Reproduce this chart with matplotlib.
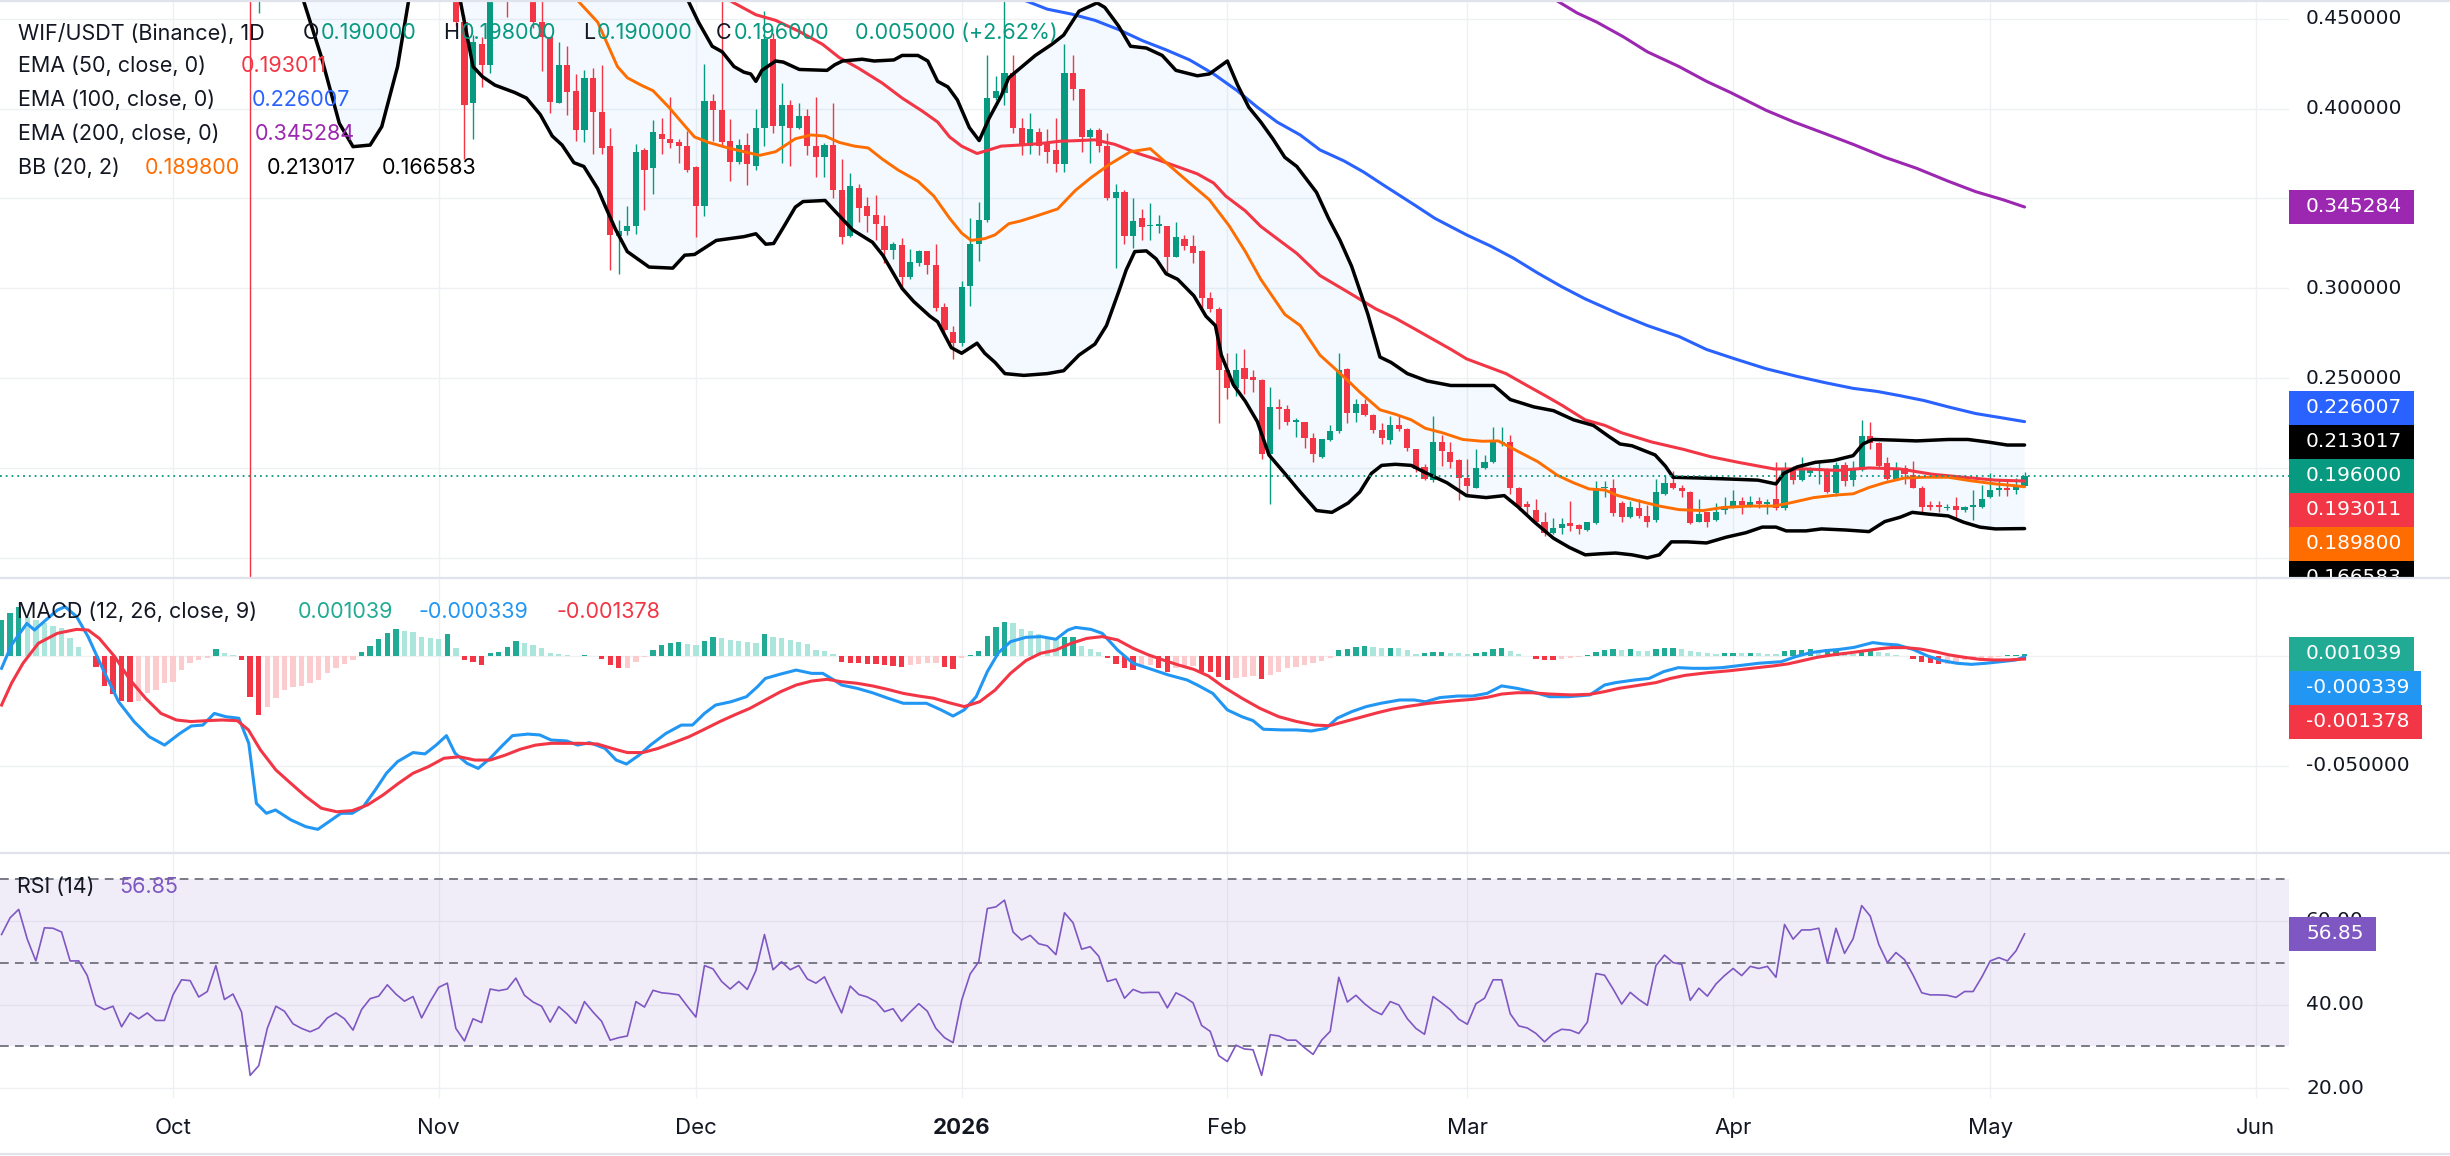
import numpy as np
import pandas as pd
import matplotlib
matplotlib.use('Agg')
import matplotlib.pyplot as plt
from matplotlib.patches import Polygon, Rectangle
from matplotlib.lines import Line2D

plt.rcParams['font.family'] = ['Inter', 'DejaVu Sans']

# ---------------- data (daily, starting 2025-09-11) ----------------
first_day = pd.Timestamp('2025-09-11')

opens = [
    1.00, 1.02, 1.08, 1.10, 1.06, 1.04, 1.05, 1.00, 0.97, 0.92,
    0.90, 0.86, 0.80, 0.78, 0.74, 0.75, 0.72, 0.73, 0.71, 0.70,
    0.72, 0.76, 0.80, 0.81, 0.78, 0.80, 0.83, 0.79, 0.78, 0.73,
    0.55, 0.60, 0.62, 0.58, 0.59, 0.56, 0.55, 0.54, 0.52, 0.53,
    0.54, 0.52, 0.50, 0.53, 0.55, 0.57, 0.58, 0.56, 0.55, 0.54,
    0.52, 0.51, 0.50, 0.49, 0.448, 0.403, 0.436, 0.424, 0.475, 0.48,
    0.47, 0.475, 0.468, 0.448, 0.440, 0.4028, 0.4243, 0.4100, 0.3880, 0.4171,
    0.3980, 0.3791, 0.3294, 0.3319, 0.3345, 0.3771, 0.3668, 0.3859, 0.3828, 0.3812,
    0.3791, 0.3674, 0.3456, 0.4042, 0.3991, 0.3822, 0.3705, 0.3797, 0.3678, 0.3890,
    0.4387, 0.3904, 0.4017, 0.3894, 0.3956, 0.3791, 0.3730, 0.3797, 0.3545, 0.3294,
    0.3559, 0.3456, 0.3411, 0.3345, 0.3216, 0.3243, 0.3066, 0.3144, 0.3206, 0.3130,
    0.2897, 0.2760, 0.2696, 0.3014, 0.3247, 0.3380, 0.4058, 0.4089, 0.4198, 0.3894,
    0.3791, 0.3870, 0.3802, 0.3771, 0.3689, 0.4196, 0.4106, 0.3843, 0.3880, 0.3791,
    0.3504, 0.3534, 0.3294, 0.3391, 0.3345, 0.3349, 0.3345, 0.3175, 0.3277, 0.3236,
    0.3210, 0.2949, 0.2887, 0.2548, 0.2445, 0.2558, 0.2507, 0.2490, 0.2079, 0.2342,
    0.2332, 0.2260, 0.2260, 0.2168, 0.2065, 0.2158, 0.2209, 0.2552, 0.2306, 0.2357,
    0.2295, 0.2215, 0.2158, 0.2244, 0.2220, 0.2106, 0.2010, 0.1936, 0.2147, 0.2092,
    0.2045, 0.1948, 0.1894, 0.2003, 0.2038, 0.2141, 0.2147, 0.1890, 0.1804, 0.1767,
    0.1705, 0.1644, 0.1669, 0.1695, 0.1685, 0.1660, 0.1695, 0.1890, 0.1894, 0.1806,
    0.1730, 0.1778, 0.1736, 0.1716, 0.1859, 0.1921, 0.1894, 0.1870, 0.1705, 0.1757,
    0.1716, 0.1767, 0.1788, 0.1818, 0.1788, 0.1818, 0.1804, 0.1829, 0.1778, 0.1989,
    0.1936, 0.1973, 0.1989, 0.1993, 0.1866, 0.2018, 0.1936, 0.1989, 0.2178, 0.2141,
    0.2030, 0.1942, 0.2003, 0.1962, 0.1894, 0.1798, 0.1798, 0.1779, 0.1792, 0.1767,
    0.1783, 0.1783, 0.1839, 0.1880, 0.1894, 0.1880, 0.1900,
]
highs = [
    1.05, 1.10, 1.13, 1.12, 1.09, 1.08, 1.07, 1.02, 0.99, 0.94,
    0.92, 0.87, 0.83, 0.80, 0.77, 0.76, 0.75, 0.74, 0.73, 0.74,
    0.78, 0.82, 0.83, 0.82, 0.81, 0.85, 0.84, 0.81, 0.79, 0.75,
    0.63, 0.65, 0.63, 0.61, 0.60, 0.58, 0.57, 0.55, 0.55, 0.56,
    0.55, 0.53, 0.54, 0.56, 0.58, 0.60, 0.59, 0.57, 0.56, 0.55,
    0.53, 0.52, 0.51, 0.50, 0.452, 0.441, 0.440, 0.49, 0.50, 0.49,
    0.49, 0.485, 0.475, 0.462, 0.440, 0.4367, 0.4346, 0.4192, 0.4213, 0.4223,
    0.4243, 0.3894, 0.3380, 0.3456, 0.3802, 0.3781, 0.3935, 0.3945, 0.4065, 0.3832,
    0.3873, 0.3678, 0.4247, 0.4083, 0.462, 0.3941, 0.3832, 0.3863, 0.3997, 0.4541,
    0.4418, 0.4141, 0.4048, 0.4028, 0.3997, 0.4065, 0.3806, 0.4032, 0.3720, 0.3643,
    0.3582, 0.3510, 0.3520, 0.3407, 0.3257, 0.3278, 0.3220, 0.3216, 0.3210, 0.3247,
    0.2918, 0.2790, 0.3041, 0.3391, 0.3479, 0.4295, 0.4182, 0.465, 0.4295, 0.3945,
    0.3976, 0.3894, 0.3884, 0.3945, 0.4356, 0.4295, 0.4106, 0.3894, 0.3894, 0.3863,
    0.3582, 0.3545, 0.3504, 0.3442, 0.3477, 0.3411, 0.3345, 0.3370, 0.3298, 0.3298,
    0.3216, 0.2979, 0.2897, 0.2640, 0.2640, 0.2661, 0.2548, 0.2497, 0.2455, 0.2388,
    0.2353, 0.2280, 0.2260, 0.2199, 0.2162, 0.2240, 0.2640, 0.2558, 0.2388, 0.2384,
    0.2300, 0.2250, 0.2291, 0.2291, 0.2225, 0.2110, 0.2024, 0.2291, 0.2188, 0.2147,
    0.2050, 0.2055, 0.2106, 0.2075, 0.2229, 0.2229, 0.2188, 0.1895, 0.1818, 0.1829,
    0.1757, 0.1726, 0.1726, 0.1818, 0.1690, 0.1705, 0.1931, 0.1931, 0.1942, 0.1818,
    0.1818, 0.1829, 0.1798, 0.1942, 0.1962, 0.1988, 0.1910, 0.1875, 0.1829, 0.1760,
    0.1808, 0.1839, 0.1880, 0.1839, 0.1845, 0.1839, 0.1829, 0.2034, 0.2038, 0.2014,
    0.2065, 0.2010, 0.2034, 0.2000, 0.2034, 0.2038, 0.2044, 0.2271, 0.2260, 0.2147,
    0.2065, 0.2038, 0.2018, 0.2044, 0.1900, 0.1818, 0.1818, 0.1804, 0.1839, 0.1790,
    0.1880, 0.1910, 0.1976, 0.1942, 0.1931, 0.1948, 0.1980,
]
lows = [
    0.98, 1.00, 1.05, 1.03, 1.01, 1.02, 0.98, 0.95, 0.90, 0.88,
    0.84, 0.78, 0.76, 0.72, 0.72, 0.70, 0.70, 0.69, 0.68, 0.69,
    0.71, 0.75, 0.78, 0.76, 0.77, 0.79, 0.77, 0.76, 0.72, 0.12,
    0.453, 0.58, 0.56, 0.56, 0.54, 0.53, 0.52, 0.50, 0.50, 0.52,
    0.50, 0.48, 0.49, 0.52, 0.54, 0.56, 0.55, 0.54, 0.53, 0.51,
    0.50, 0.49, 0.48, 0.446, 0.372, 0.383, 0.412, 0.420, 0.465, 0.451,
    0.462, 0.461, 0.445, 0.421, 0.3976, 0.4028, 0.3966, 0.3822, 0.3812, 0.3750,
    0.3750, 0.3103, 0.3082, 0.3298, 0.3304, 0.3436, 0.3524, 0.3750, 0.3781, 0.3699,
    0.3647, 0.3288, 0.3401, 0.3822, 0.3800, 0.3600, 0.3689, 0.3575, 0.3658, 0.3791,
    0.3863, 0.3699, 0.3678, 0.3884, 0.3740, 0.3617, 0.3617, 0.3504, 0.3247, 0.3288,
    0.3370, 0.3312, 0.3267, 0.3144, 0.3164, 0.3004, 0.3052, 0.3124, 0.3082, 0.2877,
    0.2753, 0.2610, 0.2682, 0.2901, 0.3154, 0.3370, 0.4048, 0.4017, 0.3863, 0.3740,
    0.3750, 0.3740, 0.3699, 0.3647, 0.3647, 0.4048, 0.3760, 0.3699, 0.3760, 0.3493,
    0.3113, 0.3247, 0.3226, 0.3267, 0.3271, 0.3308, 0.3082, 0.3175, 0.3216, 0.3144,
    0.2877, 0.2867, 0.2250, 0.2384, 0.2404, 0.2414, 0.2425, 0.2055, 0.1804, 0.2219,
    0.2240, 0.2174, 0.2116, 0.2034, 0.2059, 0.2150, 0.2199, 0.2250, 0.2260, 0.2291,
    0.2199, 0.2137, 0.2137, 0.2209, 0.2096, 0.1983, 0.1936, 0.1927, 0.2014, 0.2003,
    0.1825, 0.1849, 0.1890, 0.1995, 0.2030, 0.2127, 0.1860, 0.1767, 0.1747, 0.1700,
    0.1627, 0.1634, 0.1634, 0.1654, 0.1634, 0.1650, 0.1690, 0.1839, 0.1736, 0.1705,
    0.1725, 0.1726, 0.1675, 0.1705, 0.1852, 0.1886, 0.1839, 0.1689, 0.1700, 0.1675,
    0.1710, 0.1747, 0.1780, 0.1747, 0.1785, 0.1778, 0.1747, 0.1771, 0.1770, 0.1911,
    0.1930, 0.1960, 0.1911, 0.1865, 0.1849, 0.1901, 0.1901, 0.1985, 0.2106, 0.2003,
    0.1936, 0.1936, 0.1911, 0.1890, 0.1747, 0.1770, 0.1757, 0.1770, 0.1726, 0.1760,
    0.1716, 0.1780, 0.1834, 0.1849, 0.1849, 0.1859, 0.1900,
]
closes = [
    1.02, 1.08, 1.10, 1.06, 1.04, 1.05, 1.00, 0.97, 0.92, 0.90,
    0.86, 0.80, 0.78, 0.74, 0.75, 0.72, 0.73, 0.71, 0.70, 0.72,
    0.76, 0.80, 0.81, 0.78, 0.80, 0.83, 0.79, 0.78, 0.73, 0.55,
    0.60, 0.62, 0.58, 0.59, 0.56, 0.55, 0.54, 0.52, 0.53, 0.54,
    0.52, 0.50, 0.53, 0.55, 0.57, 0.58, 0.56, 0.55, 0.54, 0.52,
    0.51, 0.50, 0.49, 0.448, 0.402, 0.437, 0.424, 0.475, 0.48, 0.47,
    0.475, 0.468, 0.448, 0.440, 0.4038, 0.4243, 0.4093, 0.3880, 0.4171, 0.3980,
    0.3781, 0.3298, 0.3319, 0.3345, 0.3760, 0.3658, 0.3870, 0.3832, 0.3806, 0.3791,
    0.3658, 0.3456, 0.4042, 0.3991, 0.3816, 0.3705, 0.3797, 0.3693, 0.3890, 0.4387,
    0.3904, 0.4017, 0.3894, 0.3956, 0.3791, 0.3730, 0.3797, 0.3545, 0.3288, 0.3569,
    0.3446, 0.3405, 0.3356, 0.3216, 0.3247, 0.3066, 0.3148, 0.3206, 0.3130, 0.2893,
    0.2768, 0.2696, 0.3010, 0.3247, 0.3380, 0.4058, 0.4100, 0.4198, 0.3894, 0.3791,
    0.3884, 0.3791, 0.3760, 0.3689, 0.4196, 0.4110, 0.3843, 0.3880, 0.3791, 0.3504,
    0.3534, 0.3294, 0.3376, 0.3340, 0.3353, 0.3356, 0.3175, 0.3288, 0.3236, 0.3195,
    0.2949, 0.2887, 0.2548, 0.2445, 0.2548, 0.2497, 0.2490, 0.2079, 0.2342, 0.2328,
    0.2260, 0.2270, 0.2168, 0.2079, 0.2162, 0.2209, 0.2548, 0.2306, 0.2357, 0.2295,
    0.2215, 0.2168, 0.2244, 0.2220, 0.2112, 0.1997, 0.1942, 0.2147, 0.2096, 0.2038,
    0.1948, 0.1901, 0.2003, 0.2038, 0.2147, 0.2147, 0.1890, 0.1783, 0.1783, 0.1705,
    0.1644, 0.1669, 0.1690, 0.1681, 0.1665, 0.1701, 0.1894, 0.1894, 0.1752, 0.1730,
    0.1783, 0.1736, 0.1705, 0.1870, 0.1921, 0.1890, 0.1874, 0.1695, 0.1747, 0.1705,
    0.1757, 0.1788, 0.1818, 0.1798, 0.1814, 0.1804, 0.1812, 0.1778, 0.1989, 0.1936,
    0.1993, 0.1993, 0.2003, 0.1870, 0.2018, 0.1931, 0.1993, 0.2178, 0.2141, 0.2014,
    0.1942, 0.1989, 0.1968, 0.1894, 0.1788, 0.1783, 0.1788, 0.1783, 0.1771, 0.1783,
    0.1798, 0.1829, 0.1880, 0.1890, 0.1880, 0.1907, 0.1960,
]

# indicator lines: (day index, value)
ema50 = [(80, 0.48), (85.2, 0.4593), (88.0, 0.4521), (90.3, 0.4490), (93.07, 0.4428), (95.8, 0.4356),
         (97.7, 0.4284), (100.0, 0.4223), (102.75, 0.4141), (105.06, 0.4058), (107.4, 0.3986), (109.2, 0.3925),
         (110.6, 0.3842), (112.0, 0.3791), (113.8, 0.3750), (115.2, 0.3770), (116.6, 0.3791), (118.8, 0.3797),
         (121.1, 0.3805), (123.4, 0.3818), (125.7, 0.3822), (127.55, 0.3826), (129.86, 0.3801), (132.6, 0.3750),
         (134.9, 0.3715), (137.7, 0.3668), (139.5, 0.3637), (141.4, 0.3586), (142.8, 0.3514), (145.1, 0.3431),
         (146.9, 0.3345), (148.8, 0.3277), (151.1, 0.3195), (153.8, 0.3072), (157.1, 0.2979), (160.3, 0.2887),
         (162.6, 0.2835), (164.9, 0.2774), (167.2, 0.2712), (169.1, 0.2661), (170.9, 0.2609), (173.2, 0.2568),
         (175.5, 0.2527), (177.8, 0.2465), (180.1, 0.2404), (182.0, 0.2352), (184.75, 0.2270), (187.05, 0.2239),
         (189.0, 0.2198), (192.5, 0.2147), (196.2, 0.2106), (199.4, 0.2065), (202.6, 0.2034), (206.8, 0.1997),
         (210.5, 0.1997), (214.2, 0.1989), (217.85, 0.2003), (221.5, 0.1997), (225.2, 0.1968), (228.9, 0.1951),
         (232.6, 0.1935), (236.0, 0.193011)]
ema100 = [(112, 0.48), (119.25, 0.4603), (122.0, 0.4552), (124.8, 0.4525), (127.55, 0.4490), (130.3, 0.4439),
          (133.1, 0.4377), (135.85, 0.4326), (138.6, 0.4270), (141.4, 0.4192), (144.15, 0.4099), (146.5, 0.4007),
          (148.8, 0.3925), (151.5, 0.3853), (153.8, 0.3770), (156.6, 0.3709), (158.9, 0.3647), (161.2, 0.3575),
          (164.9, 0.3462), (167.2, 0.3390), (170.9, 0.3298), (173.7, 0.3236), (176.4, 0.3168), (179.2, 0.3086),
          (182.0, 0.3010), (184.75, 0.2942), (188.8, 0.2856), (192.0, 0.2794), (195.7, 0.2733), (198.9, 0.2661),
          (202.2, 0.2609), (205.85, 0.2554), (209.5, 0.2511), (212.8, 0.2476), (216.0, 0.2445), (218.8, 0.2428),
          (221.5, 0.2404), (224.3, 0.2377), (227.1, 0.2342), (230.3, 0.2305), (233.5, 0.2280), (236.0, 0.226007)]
ema200 = [(175, 0.48), (181.3, 0.4603), (183.8, 0.4531), (186.1, 0.4480), (189.25, 0.4397), (192.0, 0.4315),
          (195.7, 0.4233), (198.9, 0.4151), (201.7, 0.4089), (205.85, 0.3990), (209.1, 0.3925), (212.8, 0.3859),
          (216.0, 0.3801), (219.7, 0.3729), (223.4, 0.3668), (227.1, 0.3596), (230.3, 0.3538), (233.5, 0.3493),
          (236.0, 0.345284)]
bb_basis = [(60, 0.55), (67.15, 0.4603), (69.54, 0.4480), (71.85, 0.4233), (73.0, 0.4171), (74.6, 0.4130),
            (76.0, 0.4099), (77.85, 0.4007), (79.7, 0.3904), (80.84, 0.3842), (82.45, 0.3812), (84.76, 0.3781),
            (86.6, 0.3760), (88.45, 0.3740), (90.3, 0.3760), (92.6, 0.3832), (94.45, 0.3853), (96.07, 0.3847),
            (97.7, 0.3812), (99.5, 0.3791), (101.1, 0.3781), (102.75, 0.3719), (104.6, 0.3658), (106.9, 0.3596),
            (108.75, 0.3514), (110.6, 0.3390), (112.0, 0.3308), (113.1, 0.3267), (114.7, 0.3277), (115.9, 0.3298),
            (117.5, 0.3360), (118.8, 0.3374), (120.6, 0.3401), (123.2, 0.3442), (125.25, 0.3544), (127.1, 0.3616),
            (129.2, 0.3688), (131.7, 0.3760), (134.0, 0.3777), (135.85, 0.3699), (138.6, 0.3586), (140.9, 0.3493),
            (143.2, 0.3349), (145.1, 0.3205), (146.9, 0.3051), (149.7, 0.2856), (151.5, 0.2794), (153.8, 0.2630),
            (155.7, 0.2548), (157.1, 0.2486), (158.45, 0.2424), (160.8, 0.2326), (162.6, 0.2301), (164.45, 0.2270),
            (166.1, 0.2223), (168.1, 0.2198), (170.45, 0.2161), (172.75, 0.2151), (174.6, 0.2153), (176.9, 0.2095),
            (179.2, 0.2038), (181.5, 0.1962), (183.35, 0.1921), (185.2, 0.1886), (187.05, 0.1880), (188.5, 0.1850),
            (191.1, 0.1818), (193.4, 0.1791), (195.7, 0.1771), (198.5, 0.1766), (200.8, 0.1783), (204.0, 0.1791),
            (206.8, 0.1791), (208.6, 0.1808), (211.4, 0.1838), (214.2, 0.1853), (216.0, 0.1859), (217.85, 0.1894),
            (219.7, 0.1921), (222.0, 0.1947), (224.3, 0.1951), (227.1, 0.1951), (229.8, 0.1931), (232.6, 0.1914),
            (234.45, 0.1906), (236.0, 0.1898)]
bb_upper = [(34, 0.70), (79, 0.48), (80.06, 0.4603), (81.3, 0.4480), (82.9, 0.4346), (84.07, 0.4315), (85.45, 0.4233),
            (86.6, 0.4202), (87.4, 0.4192), (88.0, 0.4151), (88.7, 0.4212), (90.3, 0.4264), (91.2, 0.4258),
            (93.07, 0.4217), (96.3, 0.4212), (97.2, 0.4243), (98.1, 0.4264), (100.4, 0.4274), (101.8, 0.4264),
            (104.1, 0.4270), (105.06, 0.4295), (106.9, 0.4295), (108.05, 0.4264), (109.2, 0.4151), (110.4, 0.4120),
            (111.5, 0.4048), (112.9, 0.3894), (114.05, 0.3822), (115.2, 0.3945), (116.6, 0.4069), (117.5, 0.4171),
            (118.8, 0.4223), (120.6, 0.4295), (122.5, 0.4356), (123.9, 0.4408), (125.7, 0.4541), (127.8, 0.4587),
            (128.7, 0.4562), (130.3, 0.4459), (131.7, 0.4346), (133.55, 0.4336), (135.4, 0.4295), (137.0, 0.4212),
            (139.5, 0.4182), (140.9, 0.4192), (143.0, 0.4264), (144.2, 0.4130), (145.5, 0.4007), (146.9, 0.3925),
            (148.3, 0.3832), (149.7, 0.3729), (151.1, 0.3678), (153.4, 0.3534), (154.8, 0.3390), (156.15, 0.3267),
            (157.5, 0.3123), (158.45, 0.2990), (159.4, 0.2856), (160.8, 0.2619), (162.1, 0.2589), (164.0, 0.2527),
            (166.3, 0.2486), (169.05, 0.2461), (174.1, 0.2461), (176.0, 0.2383), (178.75, 0.2342), (181.05, 0.2321),
            (183.4, 0.2270), (185.7, 0.2239), (187.5, 0.2178), (188.8, 0.2136), (190.2, 0.2126), (192.9, 0.2075),
            (194.1, 0.2013), (195.0, 0.1951), (198.0, 0.1947), (201.7, 0.1941), (204.9, 0.1935), (207.0, 0.1914),
            (207.9, 0.1972), (209.5, 0.2009), (211.6, 0.2034), (213.7, 0.2044), (216.0, 0.2071), (217.15, 0.2136),
            (218.3, 0.2161), (221.1, 0.2157), (223.4, 0.2153), (227.1, 0.2161), (229.4, 0.2161), (231.7, 0.2147),
            (234.0, 0.2130), (236.0, 0.213017)]
bb_lower = [(34, 0.48), (35.2, 0.4603), (37.3, 0.4288), (39.4, 0.3918), (41.0, 0.3788), (43.0, 0.3797),
            (44.35, 0.3899), (46.2, 0.4233), (47.5, 0.4603), (50.5, 0.48), (53.5, 0.4603), (55.0, 0.4233),
            (56.1, 0.4177), (57.55, 0.4130), (59.86, 0.4089), (61.24, 0.4058), (62.85, 0.3966), (64.24, 0.3847),
            (65.39, 0.3797), (66.77, 0.3699), (67.93, 0.3678), (69.54, 0.3555), (70.47, 0.3452), (71.62, 0.3329),
            (73.0, 0.3205), (75.54, 0.3119), (78.3, 0.3113), (79.7, 0.3185), (80.84, 0.3189), (83.38, 0.3267),
            (86.61, 0.3288), (88.0, 0.3304), (89.15, 0.3246), (90.07, 0.3250), (91.2, 0.3339), (92.6, 0.3452),
            (93.5, 0.3483), (96.07, 0.3489), (97.2, 0.3431), (99.3, 0.3325), (101.6, 0.3257), (102.8, 0.3185),
            (105.06, 0.3000), (106.4, 0.2928), (108.3, 0.2846), (109.2, 0.2815), (110.8, 0.2671), (112.0, 0.2640),
            (113.8, 0.2696), (114.7, 0.2640), (115.9, 0.2589), (117.05, 0.2527), (119.25, 0.2517), (122.0, 0.2527),
            (123.9, 0.2543), (125.7, 0.2630), (127.55, 0.2691), (128.9, 0.2794), (130.3, 0.2979), (131.2, 0.3103),
            (132.2, 0.3205), (133.55, 0.3209), (134.7, 0.3164), (135.85, 0.3082), (137.2, 0.3051), (139.1, 0.2959),
            (140.5, 0.2846), (141.6, 0.2794), (142.3, 0.2630), (143.7, 0.2465), (145.1, 0.2373), (146.5, 0.2260),
            (147.85, 0.2075), (149.7, 0.1972), (151.5, 0.1869), (153.4, 0.1766), (155.2, 0.1756), (157.1, 0.1808),
            (158.45, 0.1869), (159.8, 0.1972), (161.0, 0.2017), (162.6, 0.2023), (164.45, 0.2017), (166.3, 0.1972),
            (168.6, 0.1921), (170.9, 0.1849), (173.2, 0.1838), (175.3, 0.1849), (176.9, 0.1787), (178.75, 0.1705),
            (181.05, 0.1612), (182.9, 0.1561), (184.75, 0.1520), (186.6, 0.1526), (188.3, 0.1530), (190.2, 0.1520),
            (192.0, 0.1503), (193.4, 0.1520), (194.8, 0.1592), (196.6, 0.1592), (198.9, 0.1586), (201.2, 0.1618),
            (203.5, 0.1643), (205.4, 0.1674), (207.0, 0.1674), (208.2, 0.1653), (210.5, 0.1653), (212.3, 0.1664),
            (215.1, 0.1658), (217.85, 0.1649), (219.7, 0.1705), (221.5, 0.1729), (222.9, 0.1756), (224.8, 0.1746),
            (227.1, 0.1736), (228.9, 0.1701), (230.8, 0.1674), (232.6, 0.1664), (236.0, 0.166583)]

macd_line = [(0, -0.0056), (1.16, 0.0050), (2.95, 0.0148), (3.84, 0.0118), (5.18, 0.0164), (6.52, 0.0209),
             (7.41, 0.0224), (8.75, 0.0179), (10.09, 0.0088), (11.87, -0.0064), (13.66, -0.0208), (15.45, -0.0298),
             (17.23, -0.0367), (19.02, -0.0405), (20.8, -0.0352), (22.14, -0.0318), (23.48, -0.0314), (24.82, -0.0261),
             (26.16, -0.0276), (27.68, -0.0283), (28.84, -0.0397), (29.73, -0.0670), (30.89, -0.0715), (31.96, -0.0700),
             (33.75, -0.0745), (35.5, -0.0776), (36.9, -0.0788), (38.2, -0.0753), (39.6, -0.0715), (40.9, -0.0715),
             (42.2, -0.0685), (43.6, -0.0609), (44.9, -0.0533), (46.2, -0.0480), (48.0, -0.0439), (49.4, -0.0445),
             (50.7, -0.0405), (51.9, -0.0362), (52.9, -0.0442), (54.3, -0.0488), (55.6, -0.0511), (57.0, -0.0465),
             (58.3, -0.0412), (59.6, -0.0362), (61.4, -0.0355), (62.8, -0.0359), (64.1, -0.0382), (65.9, -0.0386),
             (67.2, -0.0405), (68.6, -0.0394), (70.4, -0.0420), (71.7, -0.0473), (72.9, -0.0491), (74.4, -0.0450),
             (75.7, -0.0405), (77.5, -0.0352), (79.3, -0.0314), (80.6, -0.0314), (82.0, -0.0261), (83.3, -0.0223),
             (85.1, -0.0208), (86.9, -0.0185), (88.2, -0.0139), (89.1, -0.0102), (90.9, -0.0082), (92.7, -0.0064),
             (94.5, -0.0079), (95.8, -0.0079), (97.1, -0.0109), (98.0, -0.0132), (99.8, -0.0147), (101.6, -0.0167),
             (103.4, -0.0192), (105.2, -0.0215), (107.9, -0.0215), (109.6, -0.0245), (111.0, -0.0273), (112.3, -0.0245),
             (113.7, -0.0185), (115.0, -0.0071), (116.3, 0.0015), (117.7, 0.0065), (119.5, 0.0085), (121.3, 0.0088),
             (123.0, 0.0076), (124.4, 0.0118), (125.3, 0.0130), (127.1, 0.0121), (128.4, 0.0103), (130.2, 0.0027),
             (132.0, -0.0033), (133.8, -0.0056), (136.1, -0.0086), (138.3, -0.0109), (139.5, -0.0132), (141.3, -0.0170),
             (143.0, -0.0245), (144.7, -0.0276), (146.0, -0.0294), (147.2, -0.0333), (149.4, -0.0336), (151.1, -0.0336),
             (152.8, -0.0341), (154.5, -0.0329), (155.8, -0.0283), (157.5, -0.0253), (159.2, -0.0230), (160.9, -0.0215),
             (163.1, -0.0200), (164.8, -0.0200), (166.1, -0.0208), (167.8, -0.0189), (169.9, -0.0182), (171.6, -0.0182),
             (173.3, -0.0170), (175.0, -0.0136), (176.8, -0.0147), (178.5, -0.0162), (180.6, -0.0185), (182.8, -0.0185),
             (185.3, -0.0177), (187.0, -0.0132), (188.3, -0.0121), (190.5, -0.0109), (192.2, -0.0102), (193.9, -0.0071),
             (195.6, -0.0053), (197.3, -0.0056), (199.0, -0.0056), (200.7, -0.0053), (202.4, -0.0045), (205.0, -0.0033),
             (207.6, -0.0026), (209.3, -0.0003), (211.0, 0.0015), (212.7, 0.0024), (214.4, 0.0030), (216.1, 0.0039),
             (218.3, 0.0061), (219.5, 0.0055), (221.2, 0.0050), (223.0, 0.0030), (224.7, 0.0000), (226.4, -0.0021),
             (228.1, -0.0033), (229.8, -0.0038), (231.5, -0.0033), (233.2, -0.0026), (235.0, -0.0018), (236.0, -0.000339)]
macd_signal = [(0, -0.0223), (1.16, -0.0124), (2.5, -0.0033), (4.3, 0.0058), (6.5, 0.0103), (8.75, 0.0121),
               (10.1, 0.0118), (11.4, 0.0080), (13.2, -0.0003), (15.0, -0.0109), (16.8, -0.0192), (18.6, -0.0261),
               (20.4, -0.0291), (22.1, -0.0298), (23.9, -0.0294), (25.7, -0.0291), (27.5, -0.0294), (28.8, -0.0336),
               (30.2, -0.0427), (32.0, -0.0518), (33.75, -0.0579), (35.5, -0.0639), (37.3, -0.0692), (39.1, -0.0708),
               (40.9, -0.0703), (42.7, -0.0677), (44.5, -0.0632), (46.3, -0.0579), (48.0, -0.0533), (49.8, -0.0503),
               (51.6, -0.0465), (53.4, -0.0458), (55.2, -0.0473), (57.0, -0.0473), (58.8, -0.0450), (60.5, -0.0424),
               (62.3, -0.0405), (64.1, -0.0397), (65.9, -0.0397), (67.7, -0.0397), (69.5, -0.0400), (71.2, -0.0420),
               (73.0, -0.0439), (74.8, -0.0439), (76.6, -0.0420), (78.4, -0.0394), (80.2, -0.0367), (82.0, -0.0333),
               (83.8, -0.0298), (85.5, -0.0268), (87.3, -0.0238), (89.1, -0.0200), (90.9, -0.0162), (92.7, -0.0132),
               (94.5, -0.0114), (96.3, -0.0106), (98.0, -0.0117), (99.8, -0.0124), (101.6, -0.0136), (103.4, -0.0152),
               (105.2, -0.0170), (107.0, -0.0182), (108.75, -0.0192), (110.5, -0.0212), (112.3, -0.0230), (114.1, -0.0208),
               (115.9, -0.0155), (117.7, -0.0079), (119.5, -0.0021), (121.2, 0.0012), (123.0, 0.0027), (124.8, 0.0058),
               (126.6, 0.0080), (128.4, 0.0088), (130.2, 0.0073), (132.0, 0.0035), (133.8, 0.0005), (135.5, -0.0018),
               (137.3, -0.0041), (139.1, -0.0061), (140.8, -0.0091), (142.5, -0.0139), (144.7, -0.0192), (146.8, -0.0238),
               (149.0, -0.0276), (151.1, -0.0298), (153.2, -0.0314), (154.9, -0.0317), (156.7, -0.0298), (158.8, -0.0276),
               (160.5, -0.0258), (162.2, -0.0242), (163.9, -0.0230), (166.5, -0.0215), (169.1, -0.0205), (171.6, -0.0197),
               (173.3, -0.0188), (175.0, -0.0173), (176.8, -0.0167), (178.5, -0.0167), (180.6, -0.0173), (183.2, -0.0177),
               (185.3, -0.0174), (187.0, -0.0162), (188.7, -0.0147), (190.5, -0.0136), (193.0, -0.0121), (194.7, -0.0102),
               (196.4, -0.0088), (199.0, -0.0076), (201.6, -0.0067), (204.1, -0.0056), (206.7, -0.0045), (208.4, -0.0036),
               (210.1, -0.0021), (211.8, -0.0006), (213.6, 0.0005), (215.7, 0.0015), (217.4, 0.0024), (219.1, 0.0033),
               (220.4, 0.0038), (222.1, 0.0038), (223.8, 0.0032), (225.5, 0.0020), (227.2, 0.0005), (229.0, -0.0006),
               (230.7, -0.0015), (232.4, -0.0018), (234.1, -0.0018), (236.0, -0.001378)]
macd_hist = [
    0.0164, 0.0197, 0.0221, 0.0179, 0.0164, 0.0152, 0.0136, 0.0126, 0.0080, 0.0042, 0.0000,
    -0.0048, -0.0136, -0.0173, -0.0205, -0.0208, -0.0203, -0.0170, -0.0155, -0.0121, -0.0117, -0.0064, -0.0033, -0.0018, -0.0011,
    0.0030, 0.0015, 0.0005,
    -0.0018, -0.0185, -0.0268, -0.0230, -0.0192, -0.0155, -0.0142, -0.0136, -0.0124, -0.0109, -0.0079, -0.0056, -0.0036, -0.0018,
    0.0020, 0.0045, 0.0076, 0.0106, 0.0121, 0.0114, 0.0111, 0.0088, 0.0080, 0.0077, 0.0098, 0.0038,
    -0.0018, -0.0026, -0.0039,
    0.0012, 0.0020, 0.0039, 0.0068, 0.0061, 0.0050, 0.0035, 0.0012, 0.0008, 0.0005, 0.0001, 0.0005, 0.0001,
    -0.0015, -0.0041, -0.0056, -0.0053, -0.0026, -0.0006,
    0.0027, 0.0050, 0.0061, 0.0065, 0.0055, 0.0050, 0.0068, 0.0088, 0.0080, 0.0073, 0.0068, 0.0065, 0.0061, 0.0100,
    0.0088, 0.0080, 0.0073, 0.0065, 0.0055, 0.0027, 0.0024, 0.0009,
    -0.0027, -0.0030, -0.0033, -0.0035, -0.0036, -0.0039, -0.0044, -0.0048, -0.0041, -0.0036, -0.0033, -0.0030,
    -0.0048, -0.0059, -0.0011,
    0.0005, 0.0024, 0.0091, 0.0130, 0.0153, 0.0148, 0.0121, 0.0114, 0.0098, 0.0083, 0.0080, 0.0086, 0.0088, 0.0045,
    0.0030, 0.0020,
    -0.0011, -0.0036, -0.0056, -0.0064, -0.0048, -0.0041, -0.0056, -0.0071, -0.0056, -0.0048, -0.0046, -0.0071,
    -0.0073, -0.0094, -0.0109, -0.0102, -0.0097, -0.0091, -0.0105, -0.0086, -0.0071, -0.0056, -0.0048, -0.0041,
    -0.0030, -0.0021, -0.0011,
    0.0027, 0.0032, 0.0039, 0.0044, 0.0039, 0.0035, 0.0038, 0.0035, 0.0027, 0.0009, 0.0012, 0.0017, 0.0020, 0.0015,
    0.0012, 0.0009, 0.0012, 0.0020, 0.0030, 0.0035, 0.0023, 0.0008, 0.0002,
    -0.0015, -0.0017, -0.0018, -0.0015, -0.0011, -0.0006,
    0.0005, 0.0020, 0.0027, 0.0032, 0.0026, 0.0030, 0.0024, 0.0023, 0.0030, 0.0035, 0.0036, 0.0033, 0.0023, 0.0017,
    0.0012, 0.0011, 0.0012, 0.0014, 0.0012, 0.0014, 0.0012, 0.0011, 0.0009, 0.0024, 0.0027, 0.0029, 0.0030, 0.0029,
    0.0030, 0.0032, 0.0020, 0.0009, 0.0020, 0.0027, 0.0020, 0.0012, 0.0005, 0.0001,
    -0.0015, -0.0026, -0.0033, -0.0036, -0.0035, -0.0026, -0.0018, -0.0015, -0.0011, -0.0010, -0.0006,
    0.0005, 0.0006, 0.001039,
]
rsi = [
    56.7, 60.7, 62.7, 55.6, 50.4, 58.3, 58.2, 57.3, 50.4, 50.4, 46.9, 39.9, 38.8, 39.6, 34.7, 38.0, 36.6, 38.0, 36.2, 36.2,
    42.3, 45.9, 45.7, 41.8, 43.1, 49.3, 41.2, 42.5, 38.2, 23.1, 25.4, 34.3, 39.6, 38.4, 35.4, 34.3, 33.5, 34.4, 36.8, 38.0,
    36.6, 33.9, 38.8, 41.4, 42.0, 44.7, 42.5, 40.8, 41.9, 36.8, 40.7, 44.1, 45.1, 34.3, 31.3, 36.6, 35.7, 43.7, 43.3, 43.7,
    46.3, 42.2, 40.6, 39.6, 35.8, 39.5, 37.7, 35.5, 40.7, 38.2, 36.0, 31.5, 32.1, 32.5, 40.7, 39.4, 43.4, 42.8, 42.6, 42.3,
    39.6, 37.0, 49.3, 48.5, 45.5, 43.7, 45.5, 43.6, 48.1, 56.7, 48.3, 50.2, 48.3, 49.3, 46.1, 45.1, 46.6, 42.2, 38.0, 44.4,
    42.4, 41.8, 40.7, 38.3, 39.0, 36.0, 38.2, 40.2, 38.4, 34.3, 32.1, 30.9, 41.0, 47.3, 50.2, 62.9, 63.3, 64.9, 57.3, 55.4,
    56.5, 54.5, 54.0, 51.9, 61.9, 59.5, 53.2, 53.8, 51.5, 45.5, 46.1, 41.5, 43.6, 42.8, 42.9, 42.9, 39.2, 42.8, 41.8, 40.4,
    35.0, 33.6, 27.8, 26.4, 30.3, 29.4, 29.2, 23.1, 32.8, 32.5, 31.5, 31.5, 29.7, 28.1, 31.5, 33.6, 46.5, 40.6, 42.2, 40.2,
    38.6, 37.6, 40.7, 39.9, 36.6, 34.3, 32.9, 41.9, 40.4, 38.8, 36.5, 35.3, 40.2, 41.5, 45.9, 45.9, 37.8, 34.9, 34.4, 33.1,
    31.1, 33.0, 34.1, 33.9, 33.1, 35.8, 47.4, 47.0, 43.7, 40.1, 42.9, 41.2, 39.8, 49.3, 51.8, 50.0, 49.6, 41.0, 43.9, 42.0,
    44.9, 46.9, 48.6, 46.9, 49.1, 48.6, 49.1, 46.5, 59.1, 55.6, 57.8, 57.8, 58.2, 49.9, 58.2, 52.2, 55.7, 63.6, 61.1, 54.3,
    50.0, 52.4, 50.7, 47.0, 42.8, 42.3, 42.3, 42.2, 41.7, 43.1, 43.1, 46.5, 50.4, 51.2, 50.4, 52.8, 56.85,
]

month_starts = ['2025-10-01', '2025-11-01', '2025-12-01', '2026-01-01', '2026-02-01',
                '2026-03-01', '2026-04-01', '2026-05-01', '2026-06-01']
month_labels = ['Oct', 'Nov', 'Dec', '2026', 'Feb', 'Mar', 'Apr', 'May', 'Jun']
price_ticks = [0.15, 0.20, 0.25, 0.30, 0.35, 0.40, 0.45]
macd_ticks = [0.0, -0.05]
rsi_ticks = [20, 40, 60]
rsi_levels = [30, 50, 70]

# ---------------- styling / layout ----------------
UP, DOWN = '#089981', '#f23645'
TXT = '#131722'
GRID = '#eef0f4'
SEP = '#e0e3eb'
W, H = 2450, 1156
PLOT_R = 2289
PX_DAY, X0_PX = 8.572, 1.56
FS_LEG = 15.5
FS_TIME = 16
SCALE_FONT = dict(family=['DejaVu Sans'], size=14.5)

fig = plt.figure(figsize=(W / 100, H / 100), dpi=100)
fig.patch.set_facecolor('white')


def rect(x0, y0, x1, y1):
    return [x0 / W, 1 - y1 / H, (x1 - x0) / W, (y1 - y0) / H]


ax_p = fig.add_axes(rect(0, 0, PLOT_R, 577.5))
ax_m = fig.add_axes(rect(0, 577.5, PLOT_R, 853))
ax_r = fig.add_axes(rect(0, 853, PLOT_R, 1098))
sc_p = fig.add_axes(rect(PLOT_R, 0, W, 577.5))
sc_m = fig.add_axes(rect(PLOT_R, 577.5, W, 853))
sc_r = fig.add_axes(rect(PLOT_R, 853, W, 1098))

ylims = {ax_p: (0.1394, 0.4603), ax_m: (-0.08955, 0.03568), ax_r: (17.7, 76.15)}
xlim = (-X0_PX / PX_DAY, (PLOT_R - X0_PX) / PX_DAY)
month_pos = [(pd.Timestamp(m) - first_day).days for m in month_starts]

for ax in (ax_p, ax_m, ax_r):
    ax.set_xlim(*xlim)
    ax.set_ylim(*ylims[ax])
    ax.set_axis_off()
    for p in month_pos:
        ax.axvline(p, color=GRID, lw=1, zorder=0)
for sc, ax in ((sc_p, ax_p), (sc_m, ax_m), (sc_r, ax_r)):
    sc.set_xlim(0, 1)
    sc.set_ylim(*ylims[ax])
    sc.set_axis_off()

for v in price_ticks:
    ax_p.axhline(v, color=GRID, lw=1, zorder=0)
for v in macd_ticks:
    ax_m.axhline(v, color=GRID, lw=1, zorder=0)
for v in rsi_ticks:
    ax_r.axhline(v, color=GRID, lw=1, zorder=0)

days = np.arange(len(closes))
o, h, l, c = map(np.array, (opens, highs, lows, closes))

# ---- price panel ----
up_arr, lo_arr = np.array(bb_upper), np.array(bb_lower)
ax_p.add_patch(Polygon(np.vstack([up_arr, lo_arr[::-1]]), closed=True,
                       facecolor='#2196f3', alpha=0.05, edgecolor='none', zorder=1))

col = np.where(c >= o, UP, DOWN)
ax_p.vlines(days, l, h, colors=col, lw=1.0, zorder=2)
body = np.maximum(np.abs(c - o), 0.0006)
ax_p.bar(days, body, bottom=np.minimum(o, c), width=0.72, color=col, linewidth=0, zorder=3)

for pts, colr, lw in ((ema200, '#9c27b0', 2.2), (ema100, '#2962ff', 2.2), (ema50, '#f23645', 2.2),
                      (bb_upper, '#000000', 2.5), (bb_lower, '#000000', 2.5), (bb_basis, '#ff6d00', 2.1)):
    a = np.array(pts)
    ax_p.plot(a[:, 0], a[:, 1], color=colr, lw=lw, zorder=4, solid_capstyle='round')

ax_p.axhline(closes[-1], color=UP, lw=1.3, ls=(0, (1, 2.2)), zorder=5)

# ---- MACD panel ----
hist = np.array(macd_hist)
prev = np.concatenate([[hist[0]], hist[:-1]])
hcol = np.where(hist >= 0, np.where(hist >= prev, '#22ab94', '#ace5dc'),
                np.where(hist < prev, '#f23645', '#fccbcd'))
ax_m.bar(days, hist, width=0.62, color=hcol, linewidth=0, zorder=2)
for pts, colr in ((macd_line, '#2196f3'), (macd_signal, '#f23645')):
    a = np.array(pts)
    ax_m.plot(a[:, 0], a[:, 1], color=colr, lw=2.2, zorder=3)

# ---- RSI panel ----
ax_r.axhspan(30, 70, color='#7e57c2', alpha=0.1, lw=0, zorder=1)
for v in rsi_levels:
    ax_r.axhline(v, color='#787b86', lw=1.4, ls=(0, (4.5, 3.2)), zorder=2)
ax_r.plot(days, rsi, color='#7e57c2', lw=1.2, zorder=3)

# ---------------- scales ----------------
renderer = fig.canvas.get_renderer()
TICK_X = (2306 - PLOT_R) / (W - PLOT_R)


def stack(vals, pin, step):
    pos = list(vals)
    above = sorted([i for i, v in enumerate(vals) if v > vals[pin]], key=lambda i: vals[i])
    below = sorted([i for i, v in enumerate(vals) if v < vals[pin]], key=lambda i: -vals[i])
    last = vals[pin]
    for i in above:
        pos[i] = max(vals[i], last + step)
        last = pos[i]
    last = vals[pin]
    for i in below:
        pos[i] = min(vals[i], last - step)
        last = pos[i]
    return pos


def scale(sc, ticks, fmt, items, pin, units_per_px, hide_close=True):
    step = 34 * units_per_px
    pos = stack([v for v, _, _ in items], pin, step)
    for v in ticks:
        # like the trading terminal, skip scale ticks that sit under a value tag
        if hide_close and any(abs(v - y) < step * 0.78 for y in pos):
            continue
        sc.text(TICK_X, v, fmt(v), va='center', ha='left', color=TXT, zorder=1, fontdict=SCALE_FONT)
    for (v, txt, colr), y in zip(items, pos):
        t = sc.text(TICK_X, y, txt, va='center', ha='left', color='white', zorder=4, clip_on=True,
                    fontdict=SCALE_FONT)
        wpx = t.get_window_extent(renderer=renderer).width
        wfrac = (TICK_X * (W - PLOT_R) + wpx + 12) / (W - PLOT_R)
        sc.add_patch(Rectangle((0, y - step / 2), wfrac, step, facecolor=colr, edgecolor='none',
                               zorder=3, clip_on=True))


price_items = [(0.345284, '0.345284', '#9c27b0'), (0.226007, '0.226007', '#2962ff'),
               (0.213017, '0.213017', '#000000'), (closes[-1], f'{closes[-1]:.6f}', UP),
               (0.193011, '0.193011', '#f23645'), (0.189800, '0.189800', '#ff6d00'),
               (0.166583, '0.166583', '#000000')]
scale(sc_p, price_ticks, lambda v: f'{v:.6f}', price_items, 3, 1 / 1800)
scale(sc_m, macd_ticks, lambda v: f'{v:.6f}',
      [(0.001039, '0.001039', '#22ab94'), (-0.000339, '-0.000339', '#2196f3'),
       (-0.001378, '-0.001378', '#f23645')], 0, 1 / 2200)
scale(sc_r, rsi_ticks, lambda v: f'{v:.2f}', [(rsi[-1], f'{rsi[-1]:.2f}', '#7e57c2')], 0, 1 / 4.225,
      hide_close=False)

# ---------------- legends (x positions in pixels) ----------------


def legend_row(y_px, pieces):
    for txt, colr, x in pieces:
        fig.text(x / W, 1 - y_px / H, txt, color=colr, fontsize=FS_LEG, va='center', ha='left', zorder=10)


legend_row(33, [('WIF/USDT (Binance), 1D', TXT, 18), ('O', TXT, 303), ('0.190000', UP, 321),
                ('H', TXT, 443), ('0.198000', UP, 461), ('L', TXT, 583), ('0.190000', UP, 597),
                ('C', TXT, 716), ('0.196000', UP, 734), ('0.005000 (+2.62%)', UP, 855)])
legend_row(66, [('EMA (50, close, 0)', TXT, 18), ('0.193011', '#f23645', 241)])
legend_row(100, [('EMA (100, close, 0)', TXT, 18), ('0.226007', '#2962ff', 252)])
legend_row(134, [('EMA (200, close, 0)', TXT, 18), ('0.345284', '#9c27b0', 255)])
legend_row(168, [('BB (20, 2)', TXT, 18), ('0.189800', '#ff6d00', 145), ('0.213017', '#000000', 267),
                 ('0.166583', '#000000', 382)])
legend_row(612, [('MACD (12, 26, close, 9)', TXT, 17), ('0.001039', '#22ab94', 298),
                 ('-0.000339', '#2196f3', 419), ('-0.001378', '#f23645', 556)])
legend_row(887, [('RSI (14)', TXT, 17), (f'{rsi[-1]:.2f}', '#7e57c2', 119)])

# ---------------- time axis ----------------
for p, lab in zip(month_pos, month_labels):
    fig.text((X0_PX + p * PX_DAY) / W, 1 - 1128 / H, lab, ha='center', va='center', fontsize=FS_TIME,
             color=TXT, fontweight='bold' if lab.isdigit() else 'normal')

# separators
for y in (1, 577.5, 853, 1154):
    fig.add_artist(Line2D([0, 1], [1 - y / H, 1 - y / H], color=SEP, lw=1.6, transform=fig.transFigure))

fig.savefig('out.png', dpi=100, facecolor='white')
